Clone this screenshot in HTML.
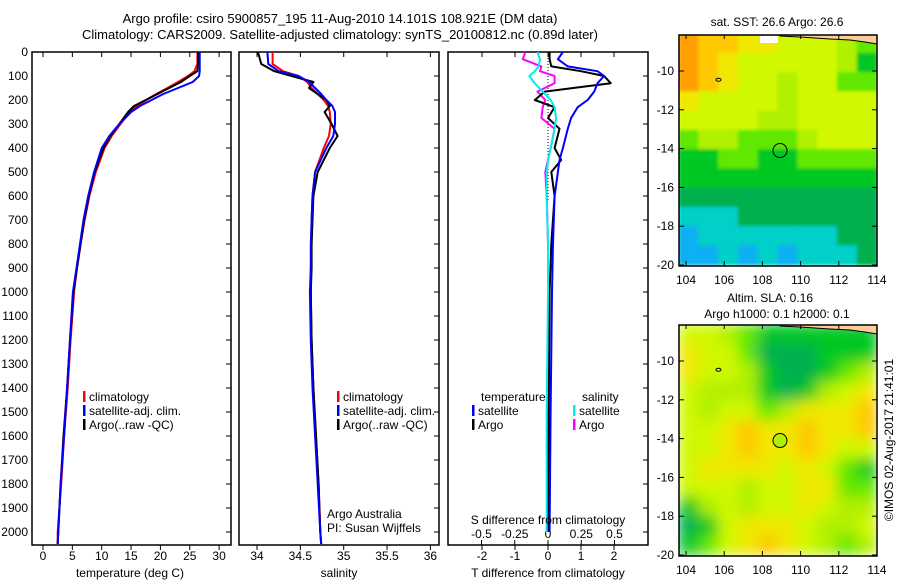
<!DOCTYPE html>
<html><head><meta charset="utf-8"><style>
body{margin:0;background:#fff;}
svg{display:block;font-family:"Liberation Sans",sans-serif;}
text{fill:#000;}
</style></head><body>
<svg id="c" width="900" height="580" viewBox="0 0 900 580">
<defs>
<filter id="b1" x="0" y="0" width="1" height="1"><feGaussianBlur stdDeviation="1.5" edgeMode="duplicate"/></filter>
<filter id="b2" x="0" y="0" width="1" height="1"><feGaussianBlur stdDeviation="7" edgeMode="duplicate"/></filter>
<clipPath id="cm1"><rect x="679" y="35" width="198" height="231"/></clipPath>
<clipPath id="cm2"><rect x="679" y="325" width="198" height="231"/></clipPath>
</defs>
<text x="340" y="23" font-size="13" text-anchor="middle">Argo profile: csiro 5900857_195 11-Aug-2010 14.101S 108.921E (DM data)</text>
<text x="340" y="39" font-size="13" text-anchor="middle">Climatology: CARS2009. Satellite-adjusted climatology: synTS_20100812.nc (0.89d later)</text>
<g id="g"></g>
</svg>
<script>
const depths=[0,50,80,100,125,150,175,200,225,250,300,350,400,500,600,700,800,900,1000,1200,1400,1600,1800,2000,2050];
const tempArgo=[26.4,26.4,26.3,25.0,23.5,21.5,19.5,17.5,15.5,14.5,13.0,11.5,10.3,8.8,7.8,7.0,6.4,5.8,5.2,4.6,4.1,3.5,3.0,2.6,2.5];
const tempClim=[26.3,26.3,25.8,24.7,23.0,21.2,19.3,17.6,16.0,14.8,13.2,11.7,10.5,9.0,7.9,7.1,6.4,5.8,5.3,4.7,4.2,3.6,3.1,2.5,2.5];
const tempSat=[26.7,26.7,26.7,26.6,25.5,23.0,20.5,18.5,16.5,15.0,13.0,11.3,10.0,8.7,7.7,6.9,6.3,5.7,5.1,4.6,4.1,3.6,3.0,2.6,2.5];
const salArgo=[34.01,34.05,34.2,34.4,34.65,34.6,34.7,34.8,34.84,34.78,34.86,34.93,34.84,34.7,34.65,34.64,34.63,34.63,34.62,34.63,34.65,34.68,34.71,34.73,34.74];
const salClim=[34.18,34.18,34.3,34.48,34.58,34.63,34.7,34.77,34.82,34.84,34.85,34.83,34.77,34.67,34.64,34.63,34.63,34.62,34.62,34.63,34.65,34.68,34.71,34.73,34.74];
const salSat=[34.12,34.13,34.25,34.48,34.6,34.67,34.74,34.8,34.87,34.9,34.9,34.88,34.8,34.67,34.64,34.63,34.62,34.62,34.61,34.62,34.64,34.67,34.7,34.73,34.74];
const diffDepths=[0,30,60,80,100,130,165,200,230,275,320,400,450,500,600,800,1000,1500,2000];
const dTsat=[0.45,0.3,0.6,1.5,1.7,1.5,1.4,1.2,0.9,0.7,0.6,0.45,0.35,0.3,0.2,0.15,0.12,0.08,0.05];
const dTargo=[0.05,0.05,0.1,1.0,1.7,1.9,-0.1,-0.4,0.2,0,0.35,0.2,0.4,0.1,0.2,0.1,0.05,0.02,0];
const dSsat=[-0.08,-0.06,-0.07,-0.1,-0.14,-0.1,-0.04,0.02,0.05,0.06,0.05,0.02,0.0,-0.01,-0.01,0,0,-0.01,-0.01];
const dSargo=[-0.17,-0.19,-0.05,-0.06,0.05,0.05,-0.08,-0.02,-0.04,-0.05,0.05,0.02,0,-0.02,-0.01,0,0,0,0];
const depthTicks=[0,100,200,300,400,500,600,700,800,900,1000,1100,1200,1300,1400,1500,1600,1700,1800,1900,2000];
const tempTicks=[0,5,10,15,20,25,30];
const salTicks=[34,34.5,35,35.5,36];
const salTickLabels=["34","34.5","35","35.5","36"];
const dTTicks=[-2,-1,0,1,2];
const dSTicks=[-0.5,-0.25,0,0.25,0.5];
const dSTickLabels=["-0.5","-0.25","0","0.25","0.5"];
const latTicks=[-10,-12,-14,-16,-18,-20];
const lonTicks=[104,106,108,110,112,114];
const sstGrid=[
[9.5,9,8.5,8,7.5,7,7,7,6,5],[9.5,9,8,7,7,6.5,7,7,6,4],[9.5,9,8,7,6.5,6,7,6.5,5,4.5],[8,7,7,7,6.5,6,7,7,7,7],
[7,6.5,7,7,6,6,6.5,7,7,7],[5,5.5,6,5,5,5,6,6.5,7,7],[4,4,4.5,4.5,4,4,4.5,4.5,5,5],[3.5,3.5,3.5,4,4,4,4,4,4,4],
[3,3,3,3,3,3,3,3,3,3],[1.5,2,2,3,3,2.5,2.5,3,3,3],[1,1.5,2,2,2,2,2,2,3,3],[0.5,1,1.5,1,2,1,1.5,2,2,2.5]];
const slaGrid=[
[7,7,6,5,4,4,4,4,4,4],[8,7,7,5,3,3,3,4,4,4],[8,7,7,6,4,3,3,4,5,6],[7,6,6,6,4,3,4,6,7,8],
[7,6,7,7,5,6,8,8,8,9],[7,7,8,8.5,8,8,9,8,8,8.5],[7,7,8,9,8,8,9,8,7,7],[7,8,8,8,8,7,8,7,5,4],
[7,7,7,6,7,7,8,8,5,5],[4,6,7,6,7,7,8,7,6,6],[3,4,7,8,8,8,7,6,6,7],[4,5,7,8,8.5,8,7,6,5,6]];
const floatLon=108.921, floatLat=-14.101;

const NS='http://www.w3.org/2000/svg';
const G=document.getElementById('g');
function el(t,a,p){const e=document.createElementNS(NS,t);for(const k in a)e.setAttribute(k,a[k]);(p||G).appendChild(e);return e;}
function txt(x,y,s,sz,anc,p){const e=el('text',{x:x,y:y,'font-size':sz,'text-anchor':anc||'middle'},p);e.textContent=s;return e;}
const T=52,B=545;
const yD=d=>T+d*0.24;
const xT=v=>43+v*5.87;
const xS=v=>257+(v-34)*86.7;
const xdT=v=>548+v*33;
const xdS=v=>548+v*133;
function line(xs,ys,xf,yf,col,w,name){
  const pts=xs.map((v,i)=>xf(v).toFixed(1)+','+yf(ys[i]).toFixed(1)).join(' ');
  const e=el('polyline',{points:pts,fill:'none',stroke:col,'stroke-width':w,'stroke-linejoin':'round'});
  
  
}
function frame(x0,x1,name){
  const e=el('rect',{x:x0,y:T,width:x1-x0,height:B-T,fill:'none',stroke:'#000','stroke-width':1.5});
  
  
  depthTicks.forEach(d=>el('line',{x1:x1,x2:x1-5,y1:yD(d),y2:yD(d),stroke:'#000'}));
}
function xticks(vals,labels,xf,ly){
  vals.forEach((v,i)=>{el('line',{x1:xf(v),x2:xf(v),y1:T,y2:T+5,stroke:'#000'});
    el('line',{x1:xf(v),x2:xf(v),y1:B,y2:B+5,stroke:'#000'});
    const t=txt(xf(v),ly,labels[i],12);
    
    });
}
depthTicks.forEach(d=>{const t=txt(28,yD(d)+4,String(d),12,'end');
  
  });
// Panel 1
frame(32,231,'temperature-panel');
xticks(tempTicks,tempTicks.map(String),xT,560);
line(tempClim,depths,xT,yD,'#f00',2,'temp-climatology-line');
line(tempArgo,depths,xT,yD,'#000',2,'temp-argo-line');
line(tempSat,depths,xT,yD,'#00f',2,'temp-satellite-line');
txt(130,577,'temperature (deg C)',12);
// Panel 2
frame(239,439,'salinity-panel');
xticks(salTicks,salTickLabels,xS,560);
line(salClim,depths,xS,yD,'#f00',2,'sal-climatology-line');
line(salArgo,depths,xS,yD,'#000',2,'sal-argo-line');
line(salSat,depths,xS,yD,'#00f',2,'sal-satellite-line');
txt(339,577,'salinity',12);
txt(327,518,'Argo Australia',12,'start');
txt(327,532,'PI: Susan Wijffels',12,'start');
function leg(x,y,col,s,name){el('rect',{x:x,y:y-10,width:2.5,height:11,fill:col});
  const t=txt(x+6,y,s,12,'start');}
[[83,'climatology','#f00'],[83,'satellite-adj. clim.','#00f'],[83,'Argo(..raw -QC)','#000']].forEach((r,i)=>leg(r[0],401+i*14,r[2],r[1],'legend-entry'));
[[337,'climatology','#f00'],[337,'satellite-adj. clim.','#00f'],[337,'Argo(..raw -QC)','#000']].forEach((r,i)=>leg(r[0],401+i*14,r[2],r[1],'legend-entry'));
// Panel 3
frame(448,648,'difference-panel');
el('line',{x1:548,x2:548,y1:T,y2:200,stroke:'#000','stroke-dasharray':'1,2'});
dTTicks.forEach(v=>{el('line',{x1:xdT(v),x2:xdT(v),y1:B,y2:B+5,stroke:'#000'});el('line',{x1:xdT(v),x2:xdT(v),y1:T,y2:T+5,stroke:'#000'});
  const t=txt(xdT(v),560,String(v),12);});
dSTicks.forEach((v,i)=>{el('line',{x1:xdS(v),x2:xdS(v),y1:B,y2:B-5,stroke:'#000'});
  const t=txt(xdS(v),538,dSTickLabels[i],12);});
line(dSargo,diffDepths,xdS,yD,'#f0f',2,'sal-diff-argo-line');
line(dTargo,diffDepths,xdT,yD,'#000',2,'temp-diff-argo-line');
line(dTsat,diffDepths,xdT,yD,'#00f',2,'temp-diff-satellite-line');
line(dSsat,diffDepths,xdS,yD,'#0ee',2,'sal-diff-satellite-line');
txt(548,524,'S difference from climatology',12);
txt(548,577,'T difference from climatology',12);
txt(481,401,'temperature',12,'start');
txt(582,401,'salinity',12,'start');
leg(472,415,'#00f','satellite','legend-entry');leg(472,429,'#000','Argo','legend-entry');
leg(573,415,'#0ee','satellite','legend-entry');leg(573,429,'#f0f','Argo','legend-entry');
// Maps
const cstops=['#1040e0','#10b0f0','#00d0c8','#00b050','#00c820','#60e800','#b0f000','#d0f800','#f0e800','#ffc800','#ffa000'];
function cmap(v){const i=Math.max(0,Math.min(10,Math.round(v)));return cstops[i];}
const xL=lon=>686+(lon-104)*19.1;
function drawMap(grid,top,lat10,clip,filt,name,circFill){
  const yL=lat=>lat10+(-10-lat)*19.4;
  const g=el('g',{'clip-path':'url(#'+clip+')'});
  
  
  const gi=el('g',{filter:'url(#'+filt+')'},g);
  const lon0=103.63, dl=(114-103.63)/10, lat0=-8.1, dlat=(20-8.1)/12;
  grid.forEach((row,r)=>row.forEach((v,c)=>{
    const x0=xL(lon0+c*dl), x1=xL(lon0+(c+1)*dl), y0=yL(lat0-r*dlat), y1=yL(lat0-(r+1)*dlat);
    const cell=el('rect',{x:x0-0.5,y:y0-0.5,width:x1-x0+1,height:y1-y0+1,fill:cmap(v)},gi);
    
    }));
  el('polygon',{points:`780,${top+1} 800,${top+2} 815,${top+3} 830,${top+4} 850,${top+5} 865,${top+7} 877,${top+9} 877,${top} 780,${top}`,fill:'#ffcc99',stroke:'#000','stroke-width':1},g);
  el('ellipse',{cx:xL(105.7),cy:yL(-10.45),rx:2.5,ry:1.5,fill:'none',stroke:'#000'},g);
  el('rect',{x:679,y:top,width:198,height:231,fill:'none',stroke:'#000','stroke-width':1.5});
  const c=el('circle',{cx:xL(floatLon),cy:yL(floatLat),r:7,fill:circFill,stroke:'#000'});
  
  
  latTicks.forEach(l=>{el('line',{x1:679,x2:684,y1:yL(l),y2:yL(l),stroke:'#000'});el('line',{x1:877,x2:872,y1:yL(l),y2:yL(l),stroke:'#000'});
    const t=txt(674,yL(l)+4,String(l),12,'end');});
  lonTicks.forEach(l=>{el('line',{x1:xL(l),x2:xL(l),y1:top,y2:top+4,stroke:'#000'});el('line',{x1:xL(l),x2:xL(l),y1:top+231,y2:top+226,stroke:'#000'});
    const t=txt(xL(l),top+249,String(l),12);});
}
drawMap(sstGrid,35,71,'cm1','b1','sst-map','none');
drawMap(slaGrid,325,361,'cm2','b2','sla-map','#b0f000');
el('rect',{x:760,y:36,width:18,height:7,fill:'#fff'});
txt(777,26,'sat. SST: 26.6 Argo: 26.6',12);
txt(770,302,'Altim. SLA: 0.16',12);
txt(777,318,'Argo h1000: 0.1 h2000: 0.1',12);
const cr=txt(0,0,'©IMOS 02-Aug-2017 21:41:01',12);
cr.setAttribute('transform','translate(893,440) rotate(-90)');


</script>
</body></html>
